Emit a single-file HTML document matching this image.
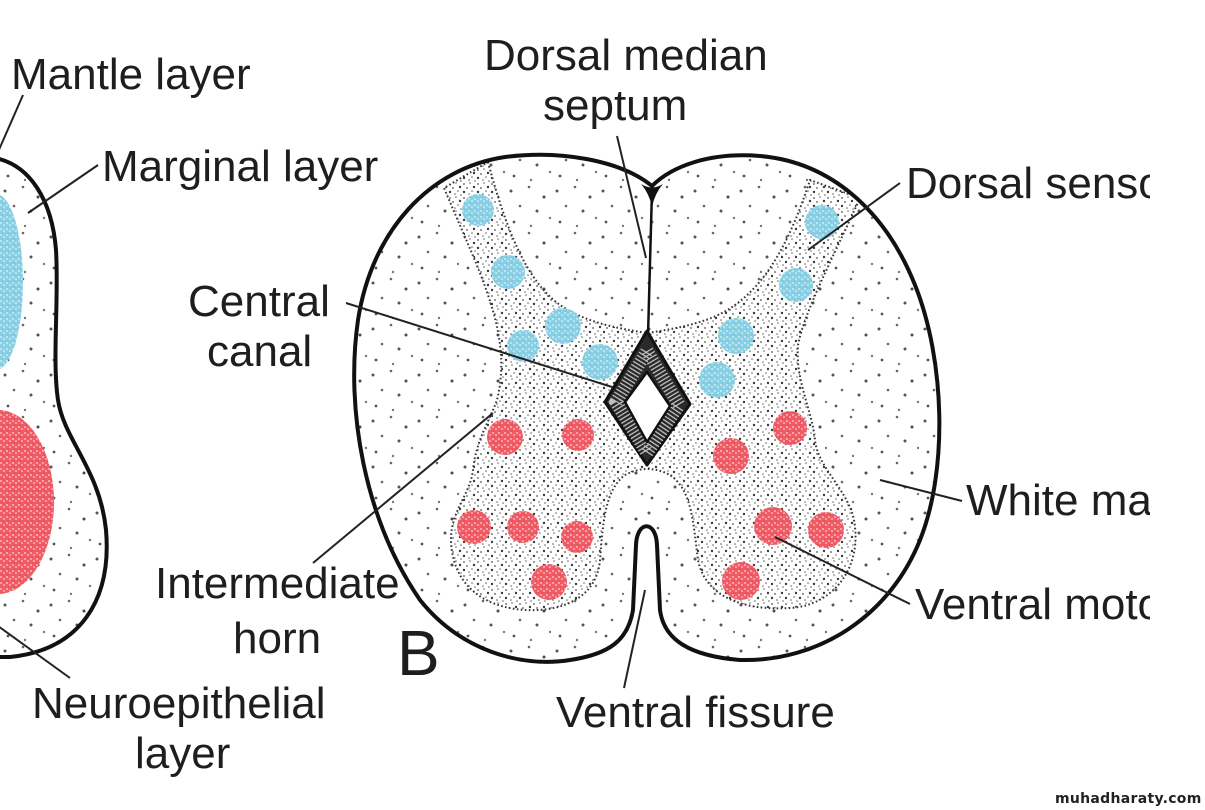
<!DOCTYPE html>
<html>
<head>
<meta charset="utf-8">
<style>
html,body{margin:0;padding:0;background:#fff;}
svg{display:block;}
.lbl{font-family:"Liberation Sans",Arial,sans-serif;font-size:44px;fill:#1e1e1e;}
</style>
</head>
<body>
<svg width="1205" height="810" viewBox="0 0 1205 810" xmlns="http://www.w3.org/2000/svg">
<defs>
  <pattern id="wm" width="46" height="46" patternUnits="userSpaceOnUse">
    <circle cx="5" cy="7" r="1.5" fill="#555"/>
    <circle cx="23" cy="3" r="1.3" fill="#666"/>
    <circle cx="38" cy="13" r="1.5" fill="#4a4a4a"/>
    <circle cx="14" cy="22" r="1.3" fill="#666"/>
    <circle cx="31" cy="27" r="1.5" fill="#555"/>
    <circle cx="44" cy="34" r="1.2" fill="#777"/>
    <circle cx="8" cy="38" r="1.4" fill="#555"/>
    <circle cx="25" cy="42" r="1.2" fill="#777"/>
  </pattern>
  <pattern id="gm" width="14" height="14" patternUnits="userSpaceOnUse">
    <rect width="14" height="14" fill="#fff"/>
    <circle cx="2" cy="2" r="0.9" fill="#555"/>
    <circle cx="8" cy="1" r="0.8" fill="#666"/>
    <circle cx="12" cy="5" r="1.2" fill="#3a3a3a"/>
    <circle cx="5" cy="6" r="0.9" fill="#555"/>
    <circle cx="10" cy="9" r="0.8" fill="#666"/>
    <circle cx="2" cy="10" r="1.2" fill="#3a3a3a"/>
    <circle cx="7" cy="12" r="0.8" fill="#666"/>
    <circle cx="13" cy="13" r="0.8" fill="#666"/>
  </pattern>
  <pattern id="bsp" width="6" height="6" patternUnits="userSpaceOnUse">
    <rect width="6" height="6" fill="#8ad0e4"/>
    <circle cx="1" cy="1" r="0.9" fill="#dff3f9"/>
    <circle cx="4" cy="3" r="0.8" fill="#eef9fc"/>
    <circle cx="2" cy="5" r="0.6" fill="#5fb8d4"/>
  </pattern>
  <pattern id="rsp" width="6" height="6" patternUnits="userSpaceOnUse">
    <rect width="6" height="6" fill="#f05c66"/>
    <circle cx="1" cy="1" r="0.9" fill="#fbd6d8"/>
    <circle cx="4" cy="3" r="0.8" fill="#fde8e9"/>
    <circle cx="2" cy="5" r="0.6" fill="#e03a46"/>
  </pattern>
  <path id="cord" d="M652,186 C620,160 560,150 505,157 C430,168 372,230 358,320 C345,410 365,520 420,600 C460,650 520,668 570,660 C610,654 628,640 633,610 L636,545 C637,520 656,520 657,545 L660,610 C664,640 690,656 740,660 C820,662 890,615 920,540 C948,470 945,360 915,285 C885,210 830,162 760,156 C710,152 672,166 652,186 Z"/>
  <clipPath id="cordclip"><use href="#cord"/></clipPath>
  <path id="leftfig" d="M-5,158 C30,165 52,200 56,250 C59,300 52,360 58,400 C64,440 100,470 106,530 C112,600 80,650 10,657 L-5,657 Z"/>
  <clipPath id="leftclip"><use href="#leftfig"/></clipPath>
  <clipPath id="lblclip"><rect x="0" y="0" width="1150" height="780"/></clipPath>
</defs>

<rect width="1205" height="810" fill="#fff"/>

<!-- Left figure (A) -->
<use href="#leftfig" fill="#fff"/>
<use href="#leftfig" fill="url(#wm)"/>
<g clip-path="url(#leftclip)">
  <ellipse cx="-4" cy="282" rx="27" ry="88" fill="url(#bsp)"/>
  <ellipse cx="-2" cy="502" rx="56" ry="92" fill="url(#rsp)"/>
</g>
<use href="#leftfig" fill="none" stroke="#111" stroke-width="4"/>

<!-- Main cord -->
<use href="#cord" fill="#fff"/>
<use href="#cord" fill="url(#wm)"/>
<g clip-path="url(#cordclip)">
  <path d="M488,162 C505,225 525,280 560,305 C585,322 615,328 647,333 C680,328 712,322 735,305 C770,280 792,235 810,180 L860,198 C832,260 805,310 798,345 C795,380 812,410 815,440 C818,470 852,492 855,527 C860,572 830,606 790,608 C742,611 705,596 698,560 C693,522 692,490 670,475 C655,467 640,467 625,475 C605,490 603,522 600,560 C597,596 565,612 525,610 C480,607 452,582 451,540 C451,510 470,495 473,470 C476,440 490,420 497,400 C502,380 502,360 500,345 C495,300 470,250 444,188 Z" fill="url(#gm)" stroke="#333" stroke-width="2" stroke-dasharray="1.6 2.4"/>
  <g fill="url(#bsp)">
    <circle cx="478" cy="210" r="16"/>
    <circle cx="508" cy="272" r="17"/>
    <circle cx="563" cy="326" r="18"/>
    <circle cx="523" cy="346" r="16"/>
    <circle cx="600" cy="362" r="18"/>
    <circle cx="822" cy="222" r="17"/>
    <circle cx="796" cy="285" r="17"/>
    <circle cx="736" cy="336" r="18"/>
    <circle cx="717" cy="380" r="18"/>
  </g>
  <g fill="url(#rsp)">
    <circle cx="505" cy="437" r="18"/>
    <circle cx="578" cy="435" r="16"/>
    <circle cx="474" cy="527" r="17"/>
    <circle cx="523" cy="527" r="16"/>
    <circle cx="577" cy="537" r="16"/>
    <circle cx="549" cy="582" r="18"/>
    <circle cx="790" cy="428" r="17"/>
    <circle cx="731" cy="456" r="18"/>
    <circle cx="773" cy="526" r="19"/>
    <circle cx="826" cy="530" r="18"/>
    <circle cx="741" cy="581" r="19"/>
  </g>
</g>

<!-- septum -->
<line x1="652" y1="190" x2="648" y2="336" stroke="#111" stroke-width="2.5"/>
<path d="M641,184 Q652,191 663,184 Q655,193 652,207 Q649,193 641,184 Z" fill="#111"/>

<!-- central canal -->
<path d="M647,331 L690,404 L647,465 L605,402 Z" fill="#2a2a2a" stroke="#111" stroke-width="3" stroke-linejoin="round"/>
<path d="M647,351 L679,405 L647,453 L616,402 Z" fill="none" stroke="#bdbdbd" stroke-width="13" stroke-dasharray="1.3 2.3"/>
<path d="M647,372 L670,406 L647,442 L625,402 Z" fill="#fff" stroke="#111" stroke-width="2.5" stroke-linejoin="round"/>

<!-- cord outline -->
<use href="#cord" fill="none" stroke="#111" stroke-width="4" stroke-linejoin="round"/>

<!-- pointer lines -->
<g stroke="#222" stroke-width="2" fill="none">
  <line x1="23" y1="95" x2="-2" y2="152"/>
  <line x1="98" y1="165" x2="28" y2="213"/>
  <line x1="346" y1="303" x2="612" y2="387"/>
  <line x1="313" y1="563" x2="493" y2="413"/>
  <line x1="-2" y1="626" x2="70" y2="678"/>
  <line x1="617" y1="136" x2="646" y2="258"/>
  <line x1="900" y1="183" x2="808" y2="250"/>
  <line x1="962" y1="501" x2="880" y2="480"/>
  <line x1="910" y1="604" x2="775" y2="537"/>
  <line x1="624" y1="688" x2="645" y2="590"/>
</g>

<!-- labels -->
<g class="lbl" clip-path="url(#lblclip)">
  <text x="11" y="89">Mantle layer</text>
  <text x="102" y="181">Marginal layer</text>
  <text x="188" y="316">Central</text>
  <text x="207" y="366">canal</text>
  <text x="155" y="598">Intermediate</text>
  <text x="233" y="653">horn</text>
  <text x="32" y="718">Neuroepithelial</text>
  <text x="135" y="768">layer</text>
  <text x="484" y="70">Dorsal median</text>
  <text x="543" y="120">septum</text>
  <text x="906" y="198">Dorsal sensory</text>
  <text x="966" y="515">White matter</text>
  <text x="915" y="619">Ventral motor</text>
  <text x="556" y="727">Ventral fissure</text>
  <text x="397" y="675" style="font-size:64px">B</text>
</g>

<text x="1055" y="803" style="font-family:'DejaVu Sans',sans-serif;font-weight:bold;font-size:14px;fill:#222;letter-spacing:0.3px">muhadharaty.com</text>
</svg>
</body>
</html>
